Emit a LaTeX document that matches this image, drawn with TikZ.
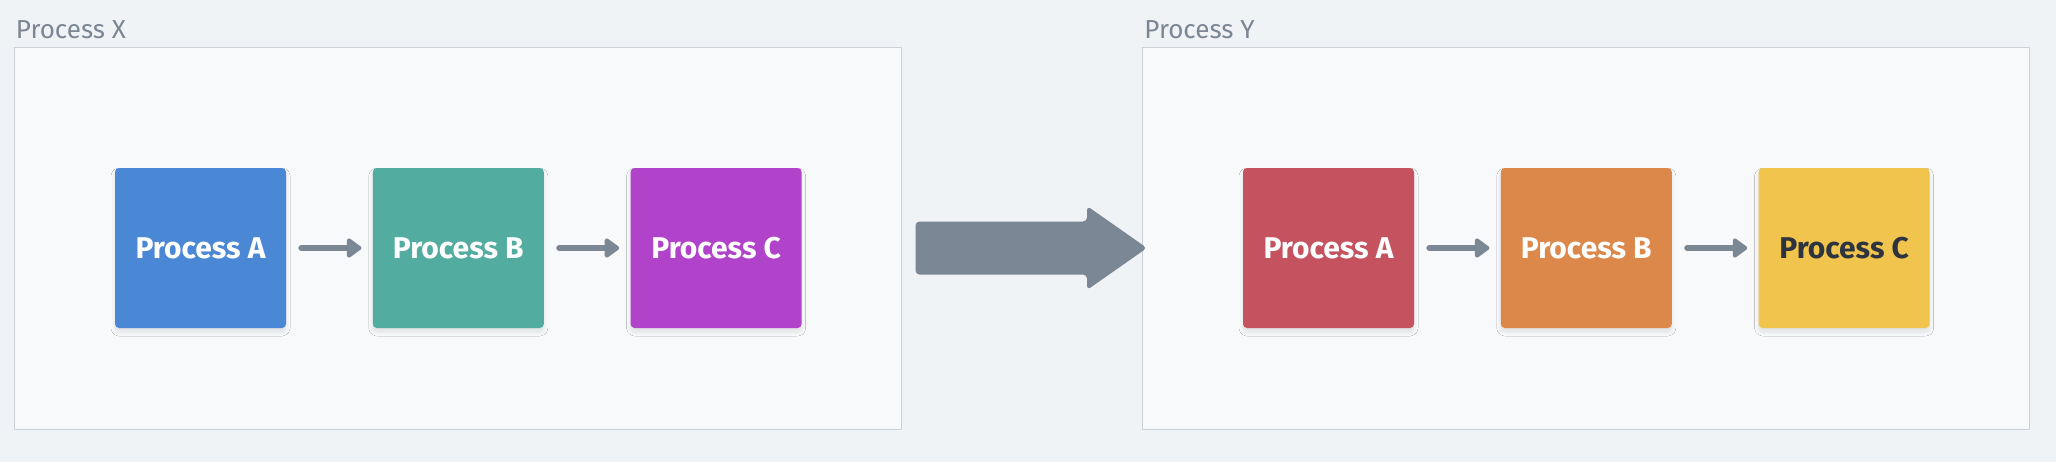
\documentclass[tikz,border=0pt]{standalone}
\usepackage{fontspec}
\setmainfont{Fira Sans}
\usetikzlibrary{positioning,calc,arrows.meta,shadows.blur}

\definecolor{bgcol}{HTML}{F0F3F6}
\definecolor{groupfill}{HTML}{F8F9FB}
\definecolor{groupline}{HTML}{CCD1D7}
\definecolor{labelgray}{HTML}{7B8694}
\definecolor{arrowgray}{HTML}{7B8794}
\definecolor{procblue}{HTML}{4A87D5}
\definecolor{procteal}{HTML}{52AC9F}
\definecolor{procpurple}{HTML}{B043C9}
\definecolor{procred}{HTML}{C4525F}
\definecolor{procorange}{HTML}{DC884A}
\definecolor{procyellow}{HTML}{F0C44D}
\definecolor{darktext}{HTML}{2D3440}

\begin{document}
\begin{tikzpicture}[%
    x=0.5pt, y=-0.5pt,          % one unit is one pixel of the layout
    node distance=43pt,         % gap between process boxes
    >={Triangle[length=8pt,width=11pt,round]},
    ]
% -------------------------------------------------
% Styles
\tikzset{
  group/.style={draw=groupline, fill=groupfill, line width=0.5pt, inner sep=0pt,
    minimum width=443.5pt, minimum height=191pt},
  grplabel/.style={anchor=base west, inner sep=0pt, text=labelgray,
    font=\fontsize{13}{15}\selectfont},
  proc/.style={rectangle, rounded corners=2pt, inner sep=0pt,
    minimum width=85.5pt, minimum height=80pt, text=white,
    font=\fontsize{15}{18}\selectfont\bfseries,
    blur shadow={shadow xshift=0pt, shadow yshift=-2pt, shadow blur radius=2pt,
      shadow blur steps=10, shadow opacity=10}},
  % connector between process boxes
  flow/.style={->, draw=arrowgray, line width=3pt, line cap=round,
    shorten <=7.5pt, shorten >=5.5pt},
  bigarrow/.style={fill=arrowgray, rounded corners=2pt}
}
\useasboundingbox (0,0) rectangle (2056,462);
\fill[bgcol] (0,0) rectangle (2056,462);

% -------------------------------------------------
% Groups
\node [group] (grpx) at (457.5,238) {};
\node [group] (grpy) at (1586,238) {};
\node [grplabel, xshift=1pt, yshift=4pt] (lblx) at (grpx.north west) {Process X};
\node [grplabel, xshift=1pt, yshift=4pt] (lbly) at (grpy.north west) {Process Y};

% Process boxes
\node [proc, fill=procblue] (xa) at (200.5,248) {Process A};
\node [proc, fill=procteal, right=of xa] (xb) {Process B};
\node [proc, fill=procpurple, right=of xb] (xc) {Process C};

\node [proc, fill=procred] (ya) at (1328.5,248) {Process A};
\node [proc, fill=procorange, right=of ya] (yb) {Process B};
\node [proc, fill=procyellow, text=darktext, right=of yb] (yc) {Process C};

% Connections
\draw [flow] (xa) -- (xb);
\draw [flow] (xb) -- (xc);
\draw [flow] (ya) -- (yb);
\draw [flow] (yb) -- (yc);

% Big arrow from group X to group Y
\coordinate (bs) at ($(grpx.east |- xc.east)+(14,0)$);
\coordinate (bt) at ($(grpy.west |- ya.west)+(5,0)$);
\fill [bigarrow] ($(bs)+(0,-26.5)$) -- ($(bt)+(-60,-26.5)$) -- ($(bt)+(-60,-42)$)
  -- (bt) -- ($(bt)+(-60,42)$) -- ($(bt)+(-60,26.5)$) -- ($(bs)+(0,26.5)$) -- cycle;

\end{tikzpicture}
\end{document}
